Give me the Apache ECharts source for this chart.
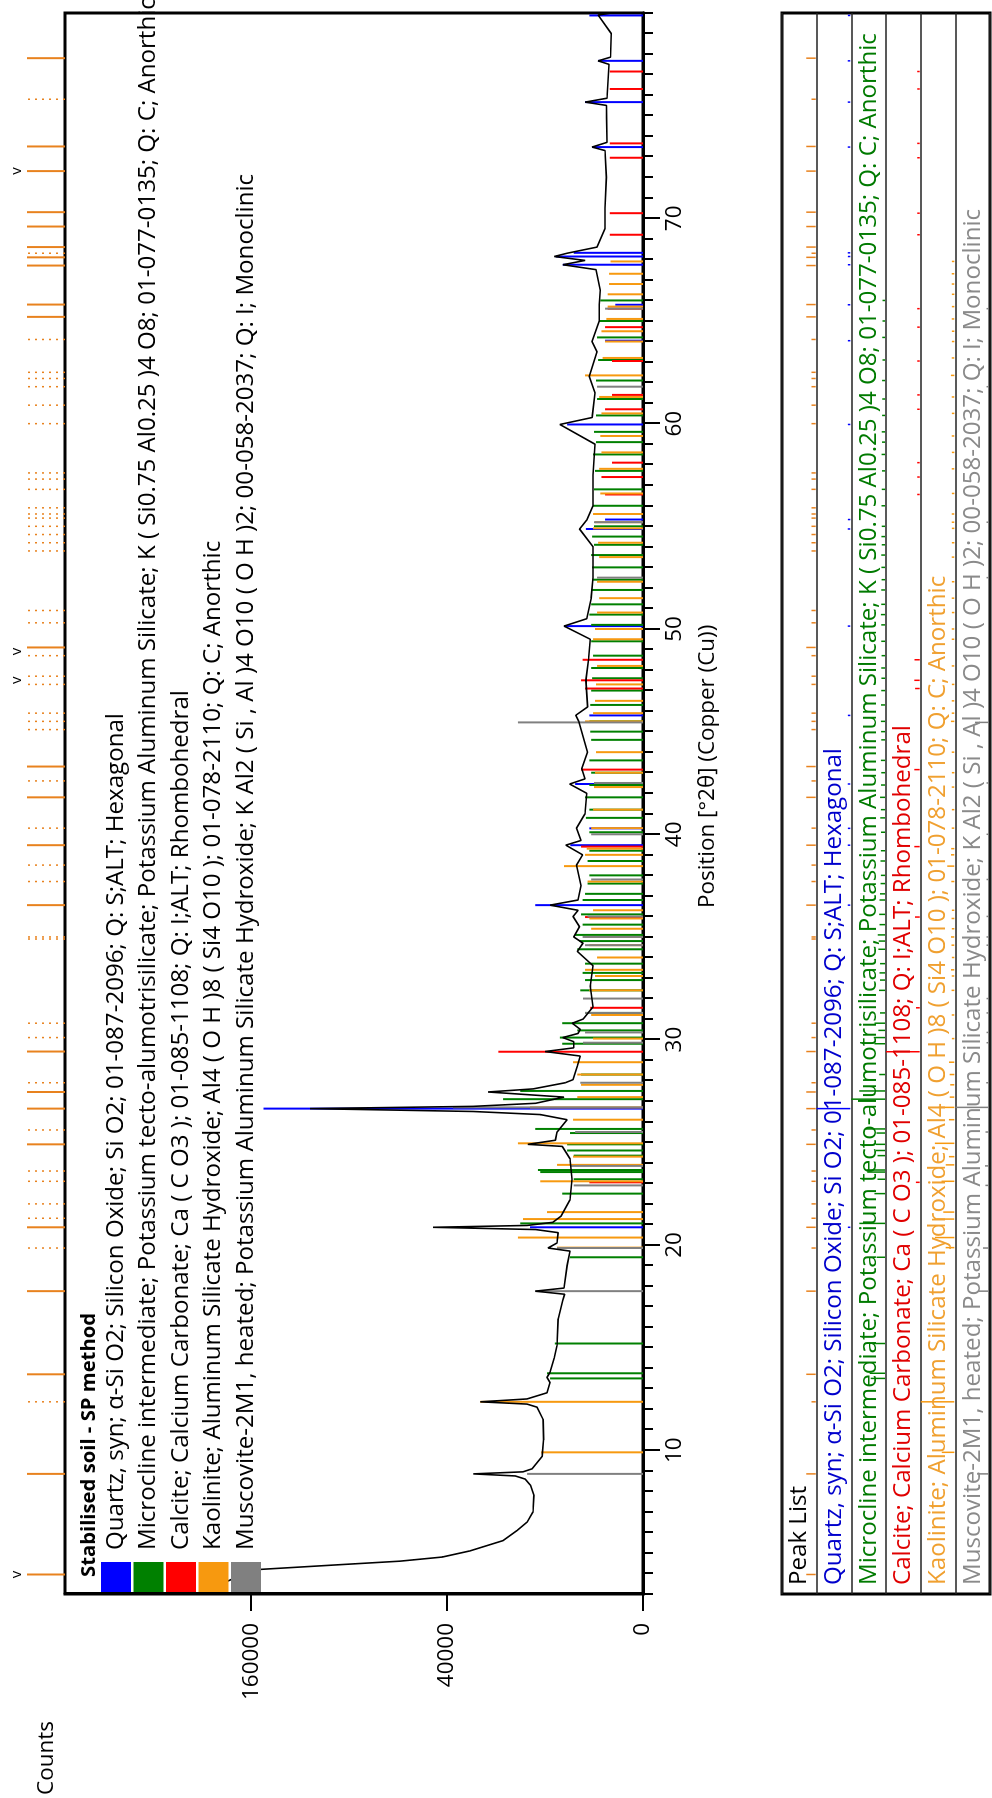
<!DOCTYPE html>
<html><head><meta charset="utf-8">
<script src="https://cdn.jsdelivr.net/npm/echarts@6/dist/echarts.min.js"></script>
<style>
html,body{margin:0;padding:0;width:992px;height:1798px;overflow:hidden;background:#fff}
#wrap{position:absolute;left:0;top:0;width:1798px;height:992px;transform-origin:0 0;transform:translateY(1798px) rotate(-90deg);}
#chart{width:1798px;height:992px}
</style></head><body><div id="wrap"><div id="chart"></div></div>
<script>
// ---------------- DATA ----------------
const thetaLabels = [10, 20, 30, 40, 50, 60, 70];
const countLabels = [0, 40000, 160000];

// observed pattern [2theta, counts]
const obsPattern = [
[3.0,200000],[3.5,185000],[4.0,165000],[4.2,152000],[4.4,102000],[4.6,61500],[4.8,42000],[5.1,31200],[5.6,20400],[6.1,16500],[6.5,14000],[7.0,12600],[7.8,12400],[8.3,13200],[8.6,14500],[8.75,17000],[8.85,30000],[8.95,15000],[9.1,12800],[9.7,10600],[10.5,10300],[11.5,10400],[12.1,11700],[12.25,14000],[12.36,27600],[12.5,14000],[12.8,9600],[13.3,9000],[13.55,9600],[13.8,9000],[14.5,8200],[15.1,7700],[16.4,7500],[17.3,6700],[17.6,6400],[17.75,12100],[17.9,6500],[19.0,6000],[19.7,5550],[19.85,9400],[20.1,7700],[20.6,7500],[20.75,12000],[20.86,45900],[20.95,14000],[21.1,8500],[21.4,7000],[22.2,5550],[23.2,5250],[24.2,5550],[24.8,6800],[24.9,13800],[25.1,8000],[25.5,7700],[26.1,6000],[26.35,11000],[26.5,30000],[26.64,115600],[26.75,30000],[26.9,12000],[27.2,6500],[27.45,25000],[27.6,12600],[27.9,6300],[28.05,5100],[28.7,4500],[29.2,4100],[29.42,10000],[29.6,5000],[29.9,5000],[30.1,6700],[30.3,4400],[30.5,4100],[30.8,5200],[31.0,3750],[31.6,2600],[32.6,2900],[33.6,2600],[34.3,4500],[34.7,3750],[35.0,5000],[35.5,4200],[36.0,5100],[36.3,4400],[36.55,9000],[36.8,4400],[37.5,4000],[38.5,4600],[39.0,3800],[39.47,6200],[39.7,4000],[40.3,4600],[41.0,3500],[42.0,3300],[42.45,5600],[42.7,3500],[43.2,3900],[44.0,3200],[45.5,4300],[45.8,4700],[46.2,3200],[47.5,3400],[48.5,3100],[49.5,2900],[50.14,6500],[50.5,3300],[51.5,2800],[52.5,2600],[54.0,2600],[54.87,4200],[55.3,3300],[56.0,2600],[57.5,2600],[59.0,2400],[59.96,7200],[60.3,2700],[61.5,2400],[62.3,3000],[63.5,2200],[64.0,2700],[65.0,2000],[65.8,2000],[66.5,1900],[67.5,2300],[67.74,6700],[67.95,3500],[68.14,8200],[68.3,6000],[68.6,2200],[69.5,1500],[70.5,1500],[72.0,1400],[73.3,1500],[73.47,2700],[73.7,1350],[75.5,1400],[75.66,3500],[75.85,1350],[77.5,1200],[77.67,2100],[77.85,1100],[79.0,1050],[79.9,2100],[80.0,1050]
];

// reference sticks [2theta, counts]
const quartzSticks = [[20.86,13300],[26.64,150000],[36.55,12100],[39.47,5500],[40.29,3000],[42.45,4800],[45.79,3000],[50.14,6500],[54.87,3400],[55.33,1500],[59.96,6000],[64.04,1500],[65.79,800],[67.74,6700],[68.14,7900],[68.32,5000],[73.47,2700],[75.66,3500],[77.67,2100],[79.88,3000]];
const microclineSticks = [[13.5,9000],[13.75,9600],[15.2,8100],[19.4,5550],[21.05,15700],[22.5,6800],[23.2,5000],[23.55,11000],[23.65,11500],[24.35,5000],[24.6,6000],[24.9,6000],[25.45,5550],[25.65,12100],[27.1,20400],[27.5,15700],[28.3,4000],[29.8,6800],[30.1,7200],[30.45,4500],[30.8,6800],[31.3,3500],[32.4,4100],[32.9,3500],[33.25,3800],[33.7,3500],[34.4,4500],[34.8,4200],[35.1,4800],[35.6,3800],[36.1,4000],[36.8,3800],[37.1,3500],[37.6,3200],[38.0,3000],[38.7,3200],[39.2,3000],[40.1,3000],[40.8,3400],[41.2,3000],[41.8,3500],[42.4,3000],[43.0,2800],[43.6,3000],[44.6,2800],[45.0,2900],[45.5,3000],[46.3,2900],[47.0,2800],[47.6,2700],[48.1,2800],[48.7,2600],[49.4,2800],[50.2,2800],[50.7,3000],[51.2,2800],[51.9,2800],[52.4,2600],[53.0,2700],[53.6,2800],[54.1,2500],[54.5,2700],[55.0,2500],[56.0,2600],[56.8,2500],[57.7,2400],[58.5,2600],[59.1,2300],[59.6,2500],[60.4,2300],[61.2,2200],[62.1,2300],[63.1,2100],[64.2,2200],[65.0,2000],[66.0,1900]];
const calciteSticks = [[23.05,3000],[29.41,21800],[31.55,2900],[35.97,3500],[39.4,4000],[43.15,4000],[47.1,3500],[47.5,4000],[48.5,3800],[56.55,1500],[57.4,1800],[58.1,1000],[60.7,1500],[61.4,1000],[63.05,1000],[64.7,1500],[65.6,1300],[69.2,1150],[70.25,1150],[72.95,1150],[73.65,1150],[76.3,1150],[77.15,1150]];
const kaoliniteSticks = [[9.9,10800],[12.36,27600],[19.87,7700],[20.36,16300],[21.26,15000],[21.6,9600],[23.1,11000],[23.9,7700],[24.3,5100],[24.95,16300],[26.1,5100],[26.7,13300],[27.2,4500],[27.8,4000],[28.3,4500],[28.9,5100],[30.05,2600],[31.2,2800],[32.4,3000],[33.1,2400],[33.4,3500],[34.0,2200],[34.6,3000],[35.0,3500],[35.4,2800],[35.9,3000],[36.3,2600],[37.7,3200],[38.45,6500],[39.0,3500],[39.3,3300],[40.3,2800],[41.2,2600],[42.3,2500],[43.0,2400],[44.0,2300],[45.5,3500],[45.9,2600],[46.5,2400],[47.3,2300],[48.2,2200],[49.5,2600],[50.0,2400],[50.8,2200],[51.5,2000],[52.3,2200],[53.5,2000],[54.2,2100],[54.9,2600],[55.2,2400],[55.6,2600],[56.6,1900],[57.8,2000],[58.6,1800],[59.4,1900],[60.5,1800],[61.3,2000],[62.35,3500],[63.2,1700],[64.0,1500],[64.5,1800],[65.1,1400],[65.7,1300],[66.3,1300],[66.8,1200],[67.3,1200],[67.9,1100]];
const muscoviteSticks = [[8.85,14000],[17.75,12100],[19.85,7700],[22.9,5000],[23.85,5550],[25.5,4800],[26.7,37600],[27.9,4100],[29.85,3750],[30.35,3500],[31.3,3500],[32.0,3750],[34.6,3500],[35.0,3800],[36.0,3200],[37.8,2800],[40.0,2800],[42.5,2500],[45.45,16300],[52.5,2200],[55.2,2500],[61.8,2200],[65.6,1500]];

// peak list (observed peaks)
const peakListTheta = [3.95,8.85,12.36,13.7,17.75,19.85,20.86,21.3,22.0,23.1,23.6,24.9,25.6,26.64,27.45,27.9,29.42,30.1,30.8,34.9,35.0,36.55,37.7,38.5,39.47,40.3,41.8,42.6,43.3,45.1,45.5,45.9,47.3,47.7,48.7,49.1,50.3,50.9,53.8,54.2,54.6,55.0,55.4,55.6,55.9,56.8,57.3,57.6,60.0,60.9,61.8,62.2,62.5,64.1,65.2,65.8,67.7,68.1,68.3,68.6,69.6,70.3,72.3,73.5,75.8,77.8];
const peakListSolid = [1,1,0,1,1,0,1,0,0,0,0,1,0,1,1,0,1,0,0,0,0,1,0,0,1,0,1,0,1,0,0,0,0,0,0,1,0,0,0,0,0,0,0,0,0,0,0,0,0,0,0,0,0,0,1,1,1,1,0,1,1,1,1,1,0,1];
const peakListV = [3.95, 47.5, 48.9, 72.3];

const phaseLabels = [
  'Quartz, syn; \u03b1-Si O2; Silicon Oxide; Si O2; 01-087-2096; Q: S;ALT; Hexagonal',
  'Microcline intermediate; Potassium tecto-alumotrisilicate; Potassium Aluminum Silicate; K ( Si0.75 Al0.25 )4 O8; 01-077-0135; Q: C; Anorthic',
  'Calcite; Calcium Carbonate; Ca ( C O3 ); 01-085-1108; Q: I;ALT; Rhombohedral',
  'Kaolinite; Aluminum Silicate Hydroxide; Al4 ( O H )8 ( Si4 O10 ); 01-078-2110; Q: C; Anorthic',
  'Muscovite-2M1, heated; Potassium Aluminum Silicate Hydroxide; K Al2 ( Si , Al )4 O10 ( O H )2; 00-058-2037; Q: I; Monoclinic'
];
const sampleTitle = 'Stabilised soil - SP method';

// ---------------- STYLE ----------------
const phaseColors = ['#0000ff', '#008000', '#ff0000', '#f7990f', '#808080'];
const phaseTextColors = ['#0000cc', '#007a00', '#e00000', '#f0a030', '#8a8a8a'];
const peakColor = '#e8821e';
const FAM = '"Open Sans", "Noto Sans", sans-serif';

function fitFont(text, target, weight) {
  const c = document.createElement('canvas').getContext('2d');
  c.font = (weight || 'normal') + ' 100px "Open Sans"';
  return 100 * target / c.measureText(text).width;
}
const legendFs = fitFont(phaseLabels[0], 837);
const axisFs = fitFont('160000', 77);

const sq = v => Math.sqrt(v);
const allSticks = [quartzSticks, microclineSticks, calciteSticks, kaoliniteSticks, muscoviteSticks];

function stickSeries(data, color, z) {
  return {
    type: 'custom', xAxisIndex: 0, yAxisIndex: 0, silent: true, clip: true, z: z,
    encode: {x: 0, y: 1},
    data: data.map(d => [d[0], sq(d[1])]),
    renderItem(params, api) {
      const p0 = api.coord([api.value(0), 0]);
      const p1 = api.coord([api.value(0), api.value(1)]);
      return {type: 'line', shape: {x1: p0[0], y1: p0[1], x2: p1[0], y2: p1[1]},
              style: {stroke: color, lineWidth: 2}};
    }
  };
}

// peak list panel ticks: theta, row index, fraction of row height, colour index
const panelTicks = [];
peakListTheta.forEach((t, i) => panelTicks.push([t, 0, peakListSolid[i] ? 0.3 : 0.15, -1]));
allSticks.forEach((arr, r) => {
  const mx = Math.max(...arr.map(d => d[1]));
  arr.forEach(d => panelTicks.push([d[0], r + 1, Math.max(0.1, d[1] / mx), r]));
});

const series = [];
allSticks.forEach((arr, i) => series.push(stickSeries(arr, phaseColors[i], 2)));
series.push({
  type: 'line', xAxisIndex: 0, yAxisIndex: 0, silent: true, showSymbol: false, z: 5,
  data: obsPattern.map(d => [d[0], sq(d[1])]),
  lineStyle: {color: '#000', width: 1.6}
});
// peak markers strip above main plot
series.push({
  type: 'custom', xAxisIndex: 2, yAxisIndex: 2, silent: true, clip: false,
  data: peakListTheta.map((t, i) => [t, peakListSolid[i]]),
  encode: {x: 0},
  renderItem(params, api) {
    const p0 = api.coord([api.value(0), 0]);
    const p1 = api.coord([api.value(0), 1]);
    const solid = api.value(1) === 1;
    return {type: 'line', shape: {x1: p0[0], y1: p0[1], x2: p1[0], y2: p1[1]},
            style: {stroke: peakColor, lineWidth: solid ? 2 : 1.5, lineDash: solid ? null : [2, 5]}};
  }
});
series.push({
  type: 'custom', xAxisIndex: 2, yAxisIndex: 2, silent: true, clip: false,
  data: peakListV.map(t => [t, 1]),
  encode: {x: 0},
  renderItem(params, api) {
    const p = api.coord([api.value(0), 1]);
    return {type: 'text', x: p[0], y: p[1] - 10,
            style: {text: 'v', fill: '#000', font: '15px ' + FAM, textAlign: 'center', textVerticalAlign: 'middle'}};
  }
});
// peak list panel ticks
series.push({
  type: 'custom', xAxisIndex: 1, yAxisIndex: 1, silent: true, clip: true,
  data: panelTicks,
  encode: {x: 0},
  renderItem(params, api) {
    const t = api.value(0), r = api.value(1), f = api.value(2), c = api.value(3);
    const p0 = api.coord([t, r + 1]);
    const p1 = api.coord([t, r + 1 - f]);
    return {type: 'line', shape: {x1: p0[0], y1: p0[1] - 1, x2: p1[0], y2: p1[1]},
            style: {stroke: c < 0 ? peakColor : phaseColors[c], lineWidth: 1.5}};
  }
});

// ---------------- LAYOUT (landscape, then rotated) ----------------
const G = {left: 204, right: 13, top: 65, bottom: 349};
const graphic = [];
graphic.push({type: 'text', x: 3, y: 47, style: {text: 'Counts', font: axisFs + 'px ' + FAM, fill: '#000', textVerticalAlign: 'middle'}});
graphic.push({type: 'text', x: 890, y: 708, style: {text: 'Position [\u00b02\u03b8] (Copper (Cu))', font: axisFs + 'px ' + FAM, fill: '#000', textVerticalAlign: 'middle'}});
graphic.push({type: 'text', x: 221, y: 89, z: 20, style: {text: sampleTitle, font: 'bold ' + (legendFs * 0.84) + 'px ' + FAM, fill: '#000', textVerticalAlign: 'middle'}});
phaseLabels.forEach((lab, i) => {
  const cy = 116 + 32.5 * i;
  graphic.push({type: 'rect', z: 20, shape: {x: 206, y: cy - 15, width: 30, height: 30}, style: {fill: phaseColors[i]}});
  graphic.push({type: 'text', z: 20, x: 248, y: cy, style: {text: lab, font: legendFs + 'px ' + FAM, fill: '#000', textVerticalAlign: 'middle'}});
});
const rowH = 208 / 6;
graphic.push({type: 'text', z: 20, x: 213, y: 782 + rowH * 0.5, style: {text: 'Peak List', font: legendFs + 'px ' + FAM, fill: '#000', textVerticalAlign: 'middle'}});
phaseLabels.forEach((lab, i) => {
  graphic.push({type: 'text', z: 20, x: 213, y: 782 + rowH * (i + 1.5), style: {text: lab, font: legendFs + 'px ' + FAM, fill: phaseTextColors[i], textVerticalAlign: 'middle'}});
});

const option = {
  animation: false,
  backgroundColor: '#fff',
  grid: [
    Object.assign({show: true, borderColor: '#000', borderWidth: 3}, G),
    {left: 204, right: 13, top: 782, height: 208, show: true, borderColor: '#000', borderWidth: 3},
    {left: 204, right: 13, top: 27, height: 38, show: false}
  ],
  xAxis: [
    {gridIndex: 0, type: 'value', position: 'bottom', min: 3, max: 80, interval: 1,
     axisLine: {lineStyle: {color: '#000', width: 3}},
     axisTick: {length: 10, lineStyle: {color: '#000', width: 2}},
     axisLabel: {show: false}, splitLine: {show: false}},
    {gridIndex: 1, type: 'value', min: 3, max: 80, show: false, splitLine: {show: false}},
    {gridIndex: 2, type: 'value', min: 3, max: 80, show: false, splitLine: {show: false}},
    {gridIndex: 0, type: 'value', position: 'bottom', offset: 0, min: 3, max: 80,
     axisLine: {show: false},
     axisTick: {show: true, customValues: thetaLabels, length: 17, lineStyle: {color: '#000', width: 2}},
     axisLabel: {show: true, customValues: thetaLabels, fontSize: axisFs, fontFamily: FAM, color: '#000', margin: 21},
     splitLine: {show: false}}
  ],
  yAxis: [
    {gridIndex: 0, type: 'value', position: 'left', min: 0, max: 590,
     axisLine: {show: true, lineStyle: {color: '#000', width: 3}},
     axisTick: {show: true, customValues: countLabels.map(sq), length: 17, lineStyle: {color: '#000', width: 2}},
     axisLabel: {show: true, customValues: countLabels.map(sq), formatter: v => String(Math.round(v * v)),
                 fontSize: axisFs, fontFamily: FAM, color: '#000', margin: 29},
     splitLine: {show: false}},
    {gridIndex: 1, type: 'value', min: 0, max: 6, interval: 1, inverse: true,
     axisLine: {show: false}, axisTick: {show: false}, axisLabel: {show: false},
     splitLine: {show: true, lineStyle: {color: '#222', width: 1.5}}},
    {gridIndex: 2, type: 'value', min: 0, max: 1, show: false, splitLine: {show: false}}
  ],
  series: series,
  graphic: graphic
};

const chart = echarts.init(document.getElementById('chart'), null, {renderer: 'canvas', width: 1798, height: 992});
chart.setOption(option);
</script></body></html>
